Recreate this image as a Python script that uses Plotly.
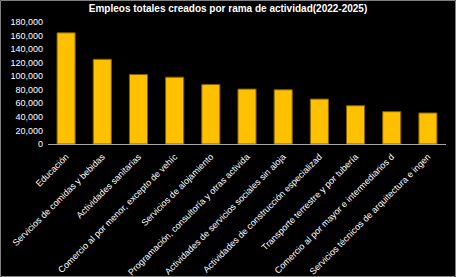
import plotly.graph_objects as go

categories = [
    "Educación",
    "Servicios de comidas y bebidas",
    "Actividades sanitarias",
    "Comercio al por menor, excepto de vehíc",
    "Servicios de alojamiento",
    "Programación, consultoría y otras activida",
    "Actividades de servicios sociales sin aloja",
    "Actividades de construcción especializad",
    "Transporte terrestre y por tubería",
    "Comercio al por mayor e intermediarios d",
    "Servicios técnicos de arquitectura e ingen",
]
values = [164000, 125000, 102500, 98600, 87700, 81000, 80000, 66300, 56500, 47700, 45800]
tick_vals = list(range(0, 180001, 20000))
tick_text = [f"{v:,}" for v in tick_vals]

title = "Empleos totales creados por rama de actividad(2022-2025)"

W, H = 456, 277
L, R, T, B = 48, 10, 22, 133
pw, ph = W - L - R, H - T - B

fig = go.Figure(go.Bar(
    x=categories, y=values,
    marker=dict(color="#FFC000", line=dict(color="#7F6000", width=1)),
))

fig.update_layout(
    width=W, height=H,
    margin=dict(l=L, r=R, t=T, b=B, autoexpand=False),
    paper_bgcolor="black", plot_bgcolor="black",
    font=dict(family="Liberation Sans, Arial, sans-serif", size=9, color="white"),
    title=dict(text=f"<b>{title}</b>", x=0.5, xanchor="center", y=1 - 8 / H, yanchor="middle",
               font=dict(size=10, color="white")),
    bargap=0.5,
    showlegend=False,
    xaxis=dict(tickangle=-45, showline=True, linecolor="#A6A6A6", linewidth=1, automargin=False,
               showgrid=False, ticks="", ticklabelstandoff=3, tickfont=dict(size=9, color="white")),
    yaxis=dict(range=[0, 180000], tickvals=tick_vals, ticktext=tick_text, automargin=False,
               showgrid=False, zeroline=False, showline=False, ticks="", ticklabelstandoff=4,
               tickfont=dict(size=9, color="white")),
    shapes=[dict(type="rect", xref="paper", yref="paper",
                 x0=(-L + 0.5) / pw, x1=1 + (R - 0.5) / pw,
                 y0=(-B + 0.5) / ph, y1=1 + (T - 0.5) / ph,
                 line=dict(color="#808080", width=1), layer="below")],
)

fig.write_html("out.html")
